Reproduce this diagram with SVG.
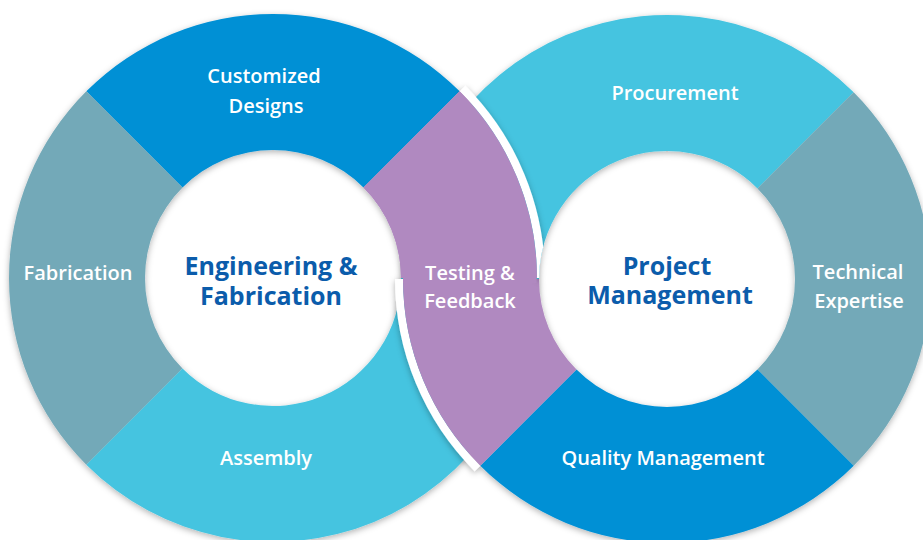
<svg xmlns="http://www.w3.org/2000/svg" width="923" height="540" viewBox="0 0 923 540">
<defs>
<filter id="sh" x="-20%" y="-20%" width="140%" height="140%">
<feDropShadow dx="0" dy="2" stdDeviation="3" flood-color="#000" flood-opacity="0.3"/>
</filter>
<clipPath id="noHole">
<path clip-rule="evenodd" d="M0 0H923V540H0ZM539 279A128 128 0 1 0 795 279A128 128 0 1 0 539 279Z"/>
</clipPath>
</defs>
<style>
.lbl{font-family:"Open Sans","Liberation Sans",sans-serif;font-weight:600;fill:#fff;font-size:20px;text-anchor:middle}
.hub{font-family:"Open Sans","Liberation Sans",sans-serif;font-weight:700;fill:#0b5cab;font-size:25px;text-anchor:middle}
.c1{fill:#0490d5}.c2{fill:#73a9b8}.c3{fill:#45c4e0}.c4{fill:#b089c0}
.gap{fill:none;stroke:#fff;stroke-width:8}
</style>
<rect width="923" height="540" fill="#fff"/>
<g id="ring-engineering" filter="url(#sh)">
<path id="seg-customized-designs" class="c1" d="M86.32 91.32A264 264 0 0 1 459.68 91.32L363.51 187.49A128 128 0 0 0 182.49 187.49Z"/>
<path id="seg-fabrication" class="c2" d="M86.32 464.68A264 264 0 0 1 86.32 91.32L182.49 187.49A128 128 0 0 0 182.49 368.51Z"/>
<path id="seg-assembly" class="c3" d="M537 278A264 264 0 0 1 86.32 464.68L182.49 368.51A128 128 0 0 0 401 278Z"/>
<path class="c4" d="M459.68 91.32A264 264 0 0 1 537 278L401 278A128 128 0 0 0 363.51 187.49Z"/>
</g>
<g id="ring-project" filter="url(#sh)">
<path class="gap" d="M399 279A268 268 0 0 0 477.5 468.5"/>
<path id="seg-procurement" class="c3" d="M403 279A264 264 0 0 1 853.68 92.32L757.51 188.49A128 128 0 0 0 539 279Z"/>
<path id="seg-technical-expertise" class="c2" d="M853.68 92.32A264 264 0 0 1 853.68 465.68L757.51 369.51A128 128 0 0 0 757.51 188.49Z"/>
<path id="seg-quality-management" class="c1" d="M853.68 465.68A264 264 0 0 1 480.32 465.68L576.49 369.51A128 128 0 0 0 757.51 369.51Z"/>
<path class="c4" d="M480.32 465.68A264 264 0 0 1 403 279L539 279A128 128 0 0 0 576.49 369.51Z"/>
</g>
<g id="seg-testing-feedback">
<g clip-path="url(#noHole)">
<path class="gap" filter="url(#sh)" d="M462.5 88.5A268 268 0 0 1 541 278"/>
</g>
<path class="c4" d="M459.68 91.32A264 264 0 0 1 537 278L401 278A128 128 0 0 0 363.51 187.49Z"/>
<path class="c4" d="M403 275H536.5V283H403Z"/>
</g>
<g id="labels">
<text class="lbl" x="264" y="83">Customized</text>
<text class="lbl" x="266" y="113">Designs</text>
<text class="lbl" x="78" y="280">Fabrication</text>
<text class="lbl" x="266" y="465">Assembly</text>
<text class="lbl" x="470" y="280">Testing &amp;</text>
<text class="lbl" x="470" y="308">Feedback</text>
<text class="lbl" x="675" y="100">Procurement</text>
<text class="lbl" x="858" y="279">Technical</text>
<text class="lbl" x="859" y="308">Expertise</text>
<text class="lbl" x="663" y="465">Quality Management</text>
<text class="hub" x="271" y="275">Engineering &amp;</text>
<text class="hub" x="271" y="305">Fabrication</text>
<text class="hub" x="667" y="275">Project</text>
<text class="hub" x="670" y="304">Management</text>
</g>
</svg>
